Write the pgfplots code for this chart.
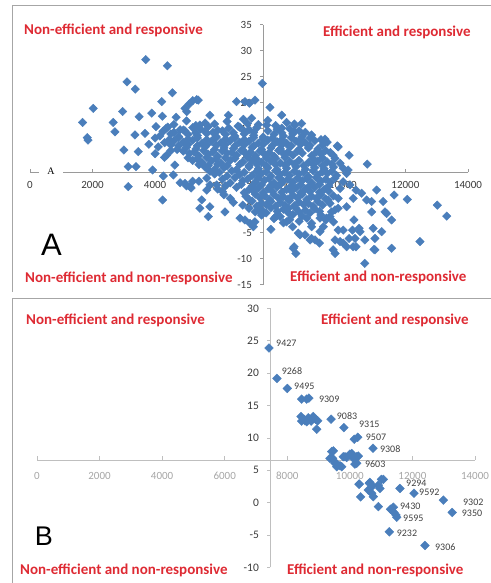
\documentclass[border=0pt]{standalone}
\usepackage{pgfplots}
\pgfplotsset{compat=1.18}
\usepackage{pgfplotstable}
\usepackage{fontspec}
\setmainfont{Carlito}
\newfontfamily\arialfont{Liberation Sans}
\newfontfamily\timesfont{Liberation Serif}
\definecolor{pts}{HTML}{4A7EBB}
\definecolor{qred}{HTML}{DE2A33}
\definecolor{framec}{HTML}{A6A6A6}
\definecolor{axA}{HTML}{9A9A9A}
\definecolor{axB}{HTML}{BFBFBF}
\definecolor{ticktxt}{HTML}{3A3A3A}
\definecolor{ticklight}{HTML}{A6A6A6}
\definecolor{lbltxt}{HTML}{404040}

\pgfplotstableread[row sep=\\]{
x y\\
3700 28.3\\ 4390 27.1\\ 3100 24.0\\ 3365 22.6\\ 4550 21.9\\ 7425 23.7\\ 2020 18.9\\ 1680 16.2\\ 1830 13.3\\
2960 18.3\\ 2660 16.2\\ 2715 14.4\\ 3490 17.3\\ 3355 13.8\\ 3675 14.1\\ 3890 18.0\\ 4210 20.2\\ 4230 17.4\\
4030 15.4\\ 4670 17.2\\ 4350 15.1\\ 4955 18.9\\ 5010 18.3\\ 5090 19.75\\ 5200 20.4\\ 5330 20.6\\ 5380 20.5\\
4900 14.75\\ 5430 15.7\\ 5750 17.6\\ 6340 17.6\\ 6600 20.2\\ 6820 16.8\\ 6870 20.2\\ 7010 19.9\\ 7190 20.5\\
7085 17.0\\ 7670 19.1\\ 8045 17.6\\ 7565 15.7\\ 8045 15.1\\ 8470 15.7\\ 8680 16.0\\ 9430 13.0\\ 9820 11.7\\
1855 12.8\\ 3000 10.9\\ 3460 10.6\\ 3140 7.7\\ 3390 7.7\\ 3140 3.85\\ 3920 7.06\\ 4260 5.9\\ 4580 6.1\\
4240 1.3\\ 4370 9.9\\ 4630 8.0\\ 4955 4.5\\ 5115 3.85\\ 5430 -0.3\\ 5750 0.0\\ 5490 1.3\\ 5700 -1.9\\
6230 -1.0\\ 5650 3.2\\ 5970 4.2\\ 6710 -2.2\\ 6870 -2.55\\ 7030 -3.2\\ 7190 -2.9\\ 7140 -3.85\\ 7405 -0.6\\
7700 -4.35\\ 7860 -1.9\\ 8200 -2.9\\ 8415 -8.0\\ 8500 -9.0\\ 8395 -3.85\\ 8575 -5.1\\ 8790 -5.4\\ 9000 -6.1\\
9110 -6.4\\ 9250 -7.0\\ 9000 -3.85\\ 9270 -2.2\\ 9460 -2.55\\ 9270 -4.8\\ 9690 -8.3\\ 9750 -9.0\\ 9850 -4.5\\
9910 -6.7\\ 10010 -7.0\\ 10200 -6.1\\ 10330 -7.7\\ 10310 -4.5\\ 10520 -4.15\\ 10355 -2.55\\ 10700 -10.9\\
10700 -6.4\\ 10970 -4.15\\ 11025 -6.1\\ 11025 -8.3\\ 11240 -4.8\\ 11400 -1.3\\ 11560 -2.55\\ 11560 -8.0\\
11290 1.0\\ 11080 3.2\\ 10920 1.0\\ 11640 2.25\\ 12060 1.4\\ 12465 -6.7\\ 13020 0.3\\ 13320 -1.8\\
10780 8.2\\ 10200 9.9\\ 9850 11.5\\ 10010 7.4\\ 10170 7.06\\ 10225 4.2\\ 10420 3.2\\ 10600 2.6\\ 10330 1.6\\
10120 0.0\\ 9750 -0.6\\ 9850 1.6\\ 9590 -1.9\\ 9530 1.3\\
10920 -1.0\\ 10760 1.3\\ 10120 -7.7\\ 10420 -7.7\\ 10390 -6.1\\ 10550 -4.8\\ 10010 -4.5\\ 9750 -6.4\\
8440 -7.7\\ 8260 -0.3\\ 8950 -6.4\\ 8630 -5.4\\ 9375 -3.85\\ 9480 -2.2\\ 9590 0.65\\ 9640 -1.0\\
9850 -0.3\\ 9910 3.5\\ 10010 4.8\\ 10120 6.4\\ 9910 8.35\\ 9690 9.9\\ 11345 -1.0\\ 10995 -8.2\\
5000 16.5\\ 5600 16.1\\ 6300 16.4\\ 6950 16.0\\ 7600 16.6\\ 8200 16.2\\
4400 15.3\\ 4800 14.8\\ 5200 15.2\\ 5450 14.9\\ 5700 15.4\\ 6000 14.7\\ 6350 15.1\\ 6700 15.3\\ 7000 14.8\\
7250 15.2\\ 7900 14.9\\ 8300 15.0\\ 8600 14.6\\
4150 13.6\\ 4500 14.0\\ 4750 13.5\\ 5050 13.9\\ 5350 13.7\\ 5650 14.1\\ 5950 13.5\\ 6250 13.9\\ 6550 13.6\\
6850 14.0\\ 7150 13.7\\ 7450 13.4\\ 7800 13.9\\ 8100 13.6\\ 8400 14.0\\ 8700 13.5\\ 9000 13.8\\
4300 12.3\\ 4600 12.7\\ 4900 12.4\\ 5200 12.8\\ 5500 12.2\\ 5800 12.6\\ 6100 12.3\\ 6400 12.7\\ 6700 12.4\\
7000 12.6\\ 7300 12.2\\ 7600 12.8\\ 7900 12.5\\ 8200 12.2\\ 8500 12.6\\ 8800 12.3\\ 9100 12.7\\ 9500 12.4\\
4700 11.0\\ 5000 11.4\\ 5300 11.1\\ 5600 11.5\\ 5900 11.0\\ 6200 11.3\\ 6500 11.2\\ 6800 10.9\\ 7100 11.4\\
7400 11.0\\ 7700 11.3\\ 8000 11.1\\ 8300 11.5\\ 8600 11.0\\ 8900 11.3\\ 9200 11.1\\
5100 10.2\\ 5400 9.8\\ 5700 10.1\\ 6000 9.7\\ 6300 10.3\\ 6600 9.9\\ 6900 10.2\\ 7200 9.8\\ 7500 10.1\\
7800 9.7\\ 8100 10.2\\ 8400 9.9\\ 8700 10.3\\ 9000 9.8\\ 9300 10.1\\ 9600 10.4\\
5200 8.9\\ 5500 8.5\\ 5800 8.8\\ 6100 8.4\\ 6400 8.9\\ 6800 8.6\\ 7100 8.9\\ 7400 8.5\\ 7700 8.8\\
8000 8.4\\ 8300 8.7\\ 8600 8.9\\ 8900 8.5\\ 9200 8.8\\ 9500 8.6\\
5600 7.6\\ 5900 7.2\\ 6200 7.5\\ 6600 7.1\\ 7000 7.6\\ 7300 7.3\\ 7600 7.5\\ 7900 7.1\\ 8200 7.4\\
8500 7.7\\ 8800 7.2\\ 9100 7.5\\ 9400 7.3\\ 9700 7.6\\
5900 6.3\\ 6300 5.9\\ 6700 6.2\\ 7100 6.0\\ 7400 6.4\\ 7700 5.9\\ 8000 6.2\\ 8300 6.0\\ 8600 6.3\\
8900 5.8\\ 9200 6.1\\ 9500 6.4\\ 9800 6.0\\
5400 4.9\\ 6400 4.6\\ 6800 5.0\\ 7200 4.7\\ 7500 5.1\\ 7800 4.6\\ 8100 4.9\\ 8400 4.7\\ 8700 5.0\\
9000 4.6\\ 9300 4.9\\ 9600 4.7\\
6000 3.4\\ 6600 3.7\\ 7000 3.3\\ 7300 3.6\\ 7600 3.4\\ 7900 3.8\\ 8200 3.3\\ 8500 3.6\\ 8800 3.4\\
9100 3.7\\ 9400 3.3\\
6200 2.3\\ 6900 2.0\\ 7200 2.4\\ 7500 2.1\\ 7800 2.3\\ 8100 1.9\\ 8400 2.2\\ 8700 2.4\\ 9000 2.0\\
9300 2.3\\ 9700 2.1\\
6500 0.8\\ 7100 1.1\\ 7400 0.7\\ 7700 1.0\\ 8000 0.8\\ 8300 1.2\\ 8600 0.9\\ 8900 0.6\\ 9200 1.0\\
7000 -0.3\\ 7300 -0.6\\ 7700 -0.2\\ 8100 -0.5\\ 8500 -0.3\\ 8800 -0.7\\ 9100 -0.4\\
7400 -1.6\\ 8000 -1.9\\ 8400 -1.5\\ 8700 -1.8\\ 9300 -1.6\\
8100 -3.1\\ 8600 -2.8\\ 9000 -3.2\\ 9700 -2.9\\
4800 4.6\\ 5000 4.0\\ 5200 4.9\\ 5150 3.6\\ 4000 10.2\\ 4300 9.5\\ 4500 10.8\\ 3800 12.0\\ 4100 11.5\\
4600 15.8\\ 5300 15.6\\ 5900 15.9\\ 6650 15.5\\ 7300 15.8\\ 7850 15.6\\ 8450 15.9\\
4250 14.5\\ 4600 14.3\\ 4950 14.6\\ 5300 14.2\\ 5600 14.5\\ 5850 14.3\\ 6150 14.6\\ 6500 14.2\\ 6850 14.5\\
7150 14.3\\ 7600 14.6\\ 8050 14.2\\ 8450 14.5\\ 8800 14.3\\
4000 13.2\\ 4450 12.9\\ 4750 13.3\\ 5050 13.0\\ 5350 13.2\\ 5650 12.9\\ 5950 13.3\\ 6250 13.0\\ 6550 13.2\\
6850 12.9\\ 7150 13.3\\ 7450 13.0\\ 7750 13.2\\ 8050 12.9\\ 8350 13.3\\ 8650 13.0\\ 8950 13.2\\ 9300 12.9\\
4500 11.9\\ 4750 11.7\\ 5050 12.0\\ 5350 11.7\\ 5650 11.9\\ 5950 11.8\\ 6250 12.0\\ 6550 11.7\\ 6850 11.9\\
7150 11.7\\ 7450 12.0\\ 7750 11.8\\ 8050 11.9\\ 8350 11.7\\ 8650 12.0\\ 8950 11.8\\ 9350 11.9\\
4900 10.7\\ 5250 10.5\\ 5550 10.8\\ 5850 10.5\\ 6150 10.7\\ 6450 10.4\\ 6750 10.8\\ 7050 10.5\\ 7350 10.7\\
7650 10.4\\ 7950 10.8\\ 8250 10.5\\ 8550 10.7\\ 9150 10.5\\ 9450 10.8\\
5050 9.4\\ 5350 9.2\\ 5650 9.5\\ 5950 9.2\\ 6250 9.4\\ 6550 9.3\\ 6950 9.5\\ 7250 9.2\\ 7550 9.4\\
7850 9.3\\ 8150 9.5\\ 9050 9.2\\ 9350 9.4\\ 9750 9.3\\
5400 8.1\\ 5700 7.9\\ 6000 8.2\\ 6300 7.9\\ 6700 8.1\\ 7000 7.9\\ 7250 8.2\\ 7550 7.9\\ 7850 8.1\\
8150 8.0\\ 8450 8.2\\ 8750 7.9\\ 9050 8.1\\ 9350 7.9\\ 9650 8.2\\
5750 6.8\\ 6050 6.6\\ 6450 6.9\\ 6850 6.6\\ 7250 6.8\\ 7550 6.7\\ 7850 6.9\\ 8150 6.6\\ 8450 6.8\\
8750 6.6\\ 9050 6.9\\ 9350 6.7\\ 9650 6.8\\
5650 5.5\\ 6150 5.3\\ 6550 5.6\\ 6950 5.3\\ 7300 5.5\\ 7650 5.4\\ 7950 5.6\\ 8250 5.3\\ 8550 5.5\\
8850 5.4\\ 9150 5.6\\ 9450 5.3\\ 9750 5.5\\
5750 4.2\\ 6250 4.0\\ 6750 4.3\\ 7100 4.0\\ 7400 4.2\\ 7700 4.1\\ 8000 4.3\\ 8350 4.0\\ 8650 4.2\\
8950 4.1\\ 9250 4.3\\ 9550 4.0\\
6150 2.9\\ 6850 2.7\\ 7150 3.0\\ 7450 2.7\\ 7750 2.9\\ 8050 2.8\\ 8350 3.0\\ 8650 2.7\\ 8950 2.9\\
9250 2.8\\ 9550 3.0\\
6400 1.6\\ 7000 1.4\\ 7350 1.7\\ 7650 1.4\\ 7950 1.6\\ 8250 1.5\\ 8550 1.7\\ 8850 1.4\\ 9150 1.6\\ 9450 1.5\\
6800 0.3\\ 7250 0.1\\ 7550 0.4\\ 7850 0.1\\ 8150 0.3\\ 8450 0.2\\ 8750 0.4\\ 9050 0.1\\ 9350 0.3\\
7200 -1.0\\ 7550 -1.2\\ 7900 -0.9\\ 8250 -1.1\\ 8600 -1.0\\ 8950 -1.2\\ 9250 -0.9\\
7800 -2.3\\ 8300 -2.5\\ 8850 -2.2\\ 9450 -2.4\\
}\dataA

\pgfplotstableread[row sep=\\]{
x y\\
7415 23.9\\ 7670 19.2\\ 8000 17.65\\ 8460 16.0\\ 8620 16.0\\ 8690 16.15\\ 8440 13.3\\ 8460 12.6\\
8565 12.65\\ 8530 12.9\\ 8670 13.1\\ 8620 12.5\\ 8830 13.3\\ 8900 12.9\\ 8970 12.65\\ 8760 12.6\\
8940 11.35\\ 9400 12.9\\ 9810 11.6\\ 10140 9.8\\ 10250 10.1\\ 10740 8.4\\ 9420 7.9\\ 9470 8.0\\
9365 6.85\\ 9450 6.85\\ 9520 6.3\\ 9525 6.1\\ 9580 5.55\\ 9685 5.7\\ 9740 5.55\\ 9790 7.1\\
9845 7.1\\ 9900 7.0\\ 10000 7.5\\ 10060 7.6\\ 10110 6.85\\ 10160 5.97\\ 10220 7.1\\ 10220 6.1\\
10270 7.2\\ 10290 2.85\\ 10300 2.9\\ 10345 0.9\\ 10590 1.96\\ 10620 3.0\\ 10640 3.15\\ 10700 1.45\\
10730 2.6\\ 10750 0.93\\ 10910 2.7\\ 10960 2.2\\ 11010 3.6\\ 11070 3.6\\ 10910 -0.6\\ 11600 2.2\\
12050 1.45\\ 12990 0.4\\ 13270 -1.5\\ 11300 -1.0\\ 11390 -0.7\\ 11410 -1.5\\ 11475 -1.9\\ 11500 -2.25\\
11260 -4.5\\ 12400 -6.6\\
}\dataB

\begin{document}
\begin{tikzpicture}[x=1pt,y=1pt]
\useasboundingbox (0,0) rectangle (490,-583);
\draw[framec, line width=0.8pt] (12.5,-292) -- (12.5,-5.5) -- (492,-5.5);
\draw[framec, line width=0.8pt] (12.5,-585) -- (12.5,-298.5) -- (492,-298.5);

% ---------------- Panel A ----------------
\begin{axis}[at={(30pt,-206.7pt)}, anchor=origin, scale only axis,
  width=438pt, height=260pt, xmin=0, xmax=14000, ymin=-15, ymax=35,
  hide axis, clip=false]
\draw[axA, line width=0.8pt] (axis cs:0,6.6) -- (axis cs:14000,6.6);
\draw[axA, line width=0.8pt] (axis cs:7450,-15) -- (axis cs:7450,35);
\pgfplotsinvokeforeach{0,2000,4000,6000,8000,10000,12000,14000}{
  \draw[axA, line width=0.8pt] (axis cs:#1,6.6) -- ([yshift=3.5pt]axis cs:#1,6.6);
}
\pgfplotsinvokeforeach{-15,-10,-5,0,5,10,15,20,25,30,35}{
  \draw[axA, line width=0.8pt] (axis cs:7450,#1) -- ([xshift=-3.5pt]axis cs:7450,#1);
}
\addplot[only marks, mark=square*, mark size=3pt,
  mark options={rotate=45, fill=pts, draw=pts}] table[x=x,y=y] {\dataA};
\pgfplotsinvokeforeach{0,2000,4000,6000,8000,10000,12000,14000}{
  \node[font=\fontsize{11}{13}\selectfont, text=ticktxt, inner sep=0pt]
    at ([yshift=-13pt]axis cs:#1,6.6) {#1};
}
\pgfplotsinvokeforeach{-15,-10,-5,0,5,10,15,20,25,30,35}{
  \node[font=\fontsize{11}{13}\selectfont, text=ticktxt, inner sep=0pt, anchor=east]
    at ([xshift=-11pt]axis cs:7450,#1) {#1};
}
\end{axis}
\node[fill=white, inner sep=0pt, minimum width=24pt, minimum height=9pt,
  font=\timesfont\fontsize{10}{12}\selectfont] at (51,-171.5) {A};
\node[font=\arialfont\fontsize{31}{33}\selectfont, inner sep=0pt] at (51.5,-245) {A};

\begin{scope}[every node/.style={font=\bfseries\fontsize{15}{17}\selectfont, text=qred, inner sep=0pt, anchor=west}]
\node at (24,-30) {Non-efficient and responsive};
\node at (323,-32) {Efficient and responsive};
\node at (25,-278) {Non-efficient and non-responsive};
\node at (290,-277) {Efficient and non-responsive};
\end{scope}

% ---------------- Panel B ----------------
\begin{axis}[at={(37pt,-502.7pt)}, anchor=origin, scale only axis,
  width=438pt, height=259pt, xmin=0, xmax=14000, ymin=-10, ymax=30,
  hide axis, clip=false]
\draw[axB, line width=0.8pt] (axis cs:0,6.6) -- (axis cs:14000,6.6);
\draw[axB, line width=0.8pt] (axis cs:7450,-10) -- (axis cs:7450,30);
\pgfplotsinvokeforeach{0,2000,4000,6000,8000,10000,12000,14000}{
  \draw[axB, line width=0.8pt] (axis cs:#1,6.6) -- ([yshift=3.5pt]axis cs:#1,6.6);
  \node[font=\fontsize{11}{13}\selectfont, text=ticklight, inner sep=0pt]
    at ([yshift=-15.5pt]axis cs:#1,6.6) {#1};
}
\pgfplotsinvokeforeach{-10,-5,0,5,10,15,20,25,30}{
  \draw[axB, line width=0.8pt] (axis cs:7450,#1) -- ([xshift=-3.5pt]axis cs:7450,#1);
  \node[font=\fontsize{11.5}{13}\selectfont, text=ticktxt, inner sep=0pt, anchor=east]
    at ([xshift=-11pt]axis cs:7450,#1) {#1};
}
\addplot[only marks, mark=square*, mark size=3.1pt,
  mark options={rotate=45, fill=pts, draw=pts}] table[x=x,y=y] {\dataB};
\begin{scope}[every node/.style={font=\fontsize{10}{12}\selectfont, text=lbltxt, inner sep=0pt, anchor=west}]
\node at (axis cs:7640,24.7) {9427};
\node at (axis cs:7820,20.3) {9268};
\node at (axis cs:8215,18.05) {9495};
\node at (axis cs:9010,16.0) {9309};
\node at (axis cs:9580,13.4) {9083};
\node at (axis cs:10290,12.15) {9315};
\node at (axis cs:10505,10.1) {9507};
\node at (axis cs:10960,8.3) {9308};
\node at (axis cs:10480,5.9) {9603};
\node at (axis cs:11795,3.0) {9294};
\node at (axis cs:12210,1.6) {9592};
\node at (axis cs:13615,0.0) {9302};
\node at (axis cs:13575,-1.65) {9350};
\node at (axis cs:11600,-0.6) {9430};
\node at (axis cs:11700,-2.4) {9595};
\node at (axis cs:11495,-4.7) {9232};
\node at (axis cs:12720,-6.8) {9306};
\end{scope}
\end{axis}
\node[font=\arialfont\fontsize{27}{29}\selectfont, inner sep=0pt] at (44,-536) {B};

\begin{scope}[every node/.style={font=\bfseries\fontsize{15}{17}\selectfont, text=qred, inner sep=0pt, anchor=west}]
\node at (26,-320) {Non-efficient and responsive};
\node at (321,-320) {Efficient and responsive};
\node at (20,-570) {Non-efficient and non-responsive};
\node at (287,-570) {Efficient and non-responsive};
\end{scope}
\end{tikzpicture}
\end{document}
